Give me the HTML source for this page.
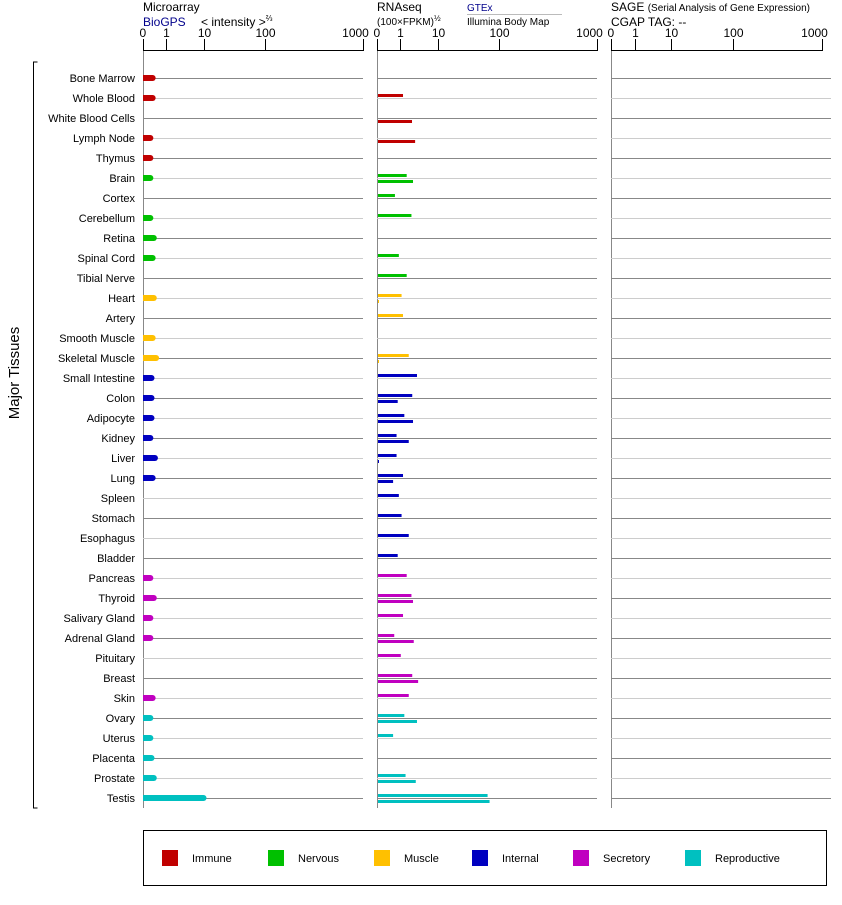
<!DOCTYPE html>
<html><head><meta charset="utf-8"><style>
body{margin:0;background:#fff;font-family:"Liberation Sans",Arial,sans-serif;}
svg text{font-family:"Liberation Sans",Arial,sans-serif;}
</style></head><body>
<svg id="chart" width="842" height="900" xmlns="http://www.w3.org/2000/svg">
<g id="hdr">
<text x="143" y="11" font-size="12">Microarray</text>
<text x="143" y="26" font-size="12" fill="#00008b">BioGPS</text>
<text x="201" y="26" font-size="12">&lt; intensity &gt;<tspan font-size="8" dy="-5">⅔</tspan></text>
<text x="377" y="11" font-size="12">RNAseq</text>
<text x="377" y="25" font-size="10">(100×FPKM)<tspan font-size="8" dy="-4">½</tspan></text>
<text x="467" y="11" font-size="10" fill="#00008b">GTEx</text>
<line x1="467" y1="14.5" x2="562" y2="14.5" stroke="#bbb"/>
<text x="467" y="25" font-size="10">Illumina Body Map</text>
<text x="611" y="11" font-size="12">SAGE <tspan font-size="10">(Serial Analysis of Gene Expression)</tspan></text>
<text x="611" y="26" font-size="12">CGAP TAG:  --</text>
</g>
<g id="axes"></g>
<g id="rows"></g>
<g id="bars"></g>
<path d="M37.5,62 H33.5 V808 H37.5" fill="none" stroke="#000"/>
<text transform="translate(19,373) rotate(-90)" text-anchor="middle" font-size="15">Major Tissues</text>
<g id="legend">
<rect x="143.5" y="830.5" width="683" height="55" fill="none" stroke="#000"/>
</g>
</svg>
<script>
const tissues=["Bone Marrow","Whole Blood","White Blood Cells","Lymph Node","Thymus","Brain","Cortex","Cerebellum","Retina","Spinal Cord","Tibial Nerve","Heart","Artery","Smooth Muscle","Skeletal Muscle","Small Intestine","Colon","Adipocyte","Kidney","Liver","Lung","Spleen","Stomach","Esophagus","Bladder","Pancreas","Thyroid","Salivary Gland","Adrenal Gland","Pituitary","Breast","Skin","Ovary","Uterus","Placenta","Prostate","Testis"];
const groups=[0,0,0,0,0,1,1,1,1,1,1,2,2,2,2,3,3,3,3,3,3,3,3,3,3,4,4,4,4,4,4,4,5,5,5,5,5];
const groupNames=["Immune","Nervous","Muscle","Internal","Secretory","Reproductive"];
const groupColors=["#c00000","#00c000","#ffc000","#0000c0","#c000c0","#00c0c0"];
const tickLabels=[0,1,10,100,1000];
const microarray=[0.55,0.55,0,0.45,0.45,0.45,0,0.45,0.6,0.55,0,0.6,0,0.55,0.7,0.5,0.5,0.5,0.45,0.65,0.55,0,0,0,0,0.45,0.6,0.45,0.45,0,0,0.55,0.45,0.45,0.5,0.6,11];
const gtex=[0,1.2,0,0,0,1.5,0.78,2.0,0,0.95,1.5,1.1,1.2,0,1.7,2.8,2.1,1.3,0.85,0.85,1.2,0.95,1.1,1.7,0.9,1.5,2.0,1.2,0.75,1.05,2.1,1.7,1.3,0.7,0,1.4,65];
const illumina=[0,0,2.07,2.5,0,2.2,0,0,0,0,0,0.05,0,0,0.05,0,0.9,2.2,1.7,0.05,0.7,0,0,0,0,0,2.2,0,2.3,0,3.0,0,2.8,0,0,2.6,70];
const sage=tissues.map(()=>0);
const NS="http://www.w3.org/2000/svg";
function mk(parent,tag,attrs){const e=document.createElementNS(NS,tag);for(const k in attrs)e.setAttribute(k,attrs[k]);parent.appendChild(e);return e;}
const panels=[{x0:143,px:[0,23,61,122,220],end:363},{x0:377,px:[0,23,61,122,220],end:597},{x0:611,px:[0,24,60,122,211],end:831}];
function scale(p,v){const t=tickLabels;if(v<=0)return p.x0;for(let i=1;i<t.length;i++){if(v<=t[i]){let f;if(i===1)f=v/t[1];else f=Math.log10(v/t[i-1])/Math.log10(t[i]/t[i-1]);return p.x0+p.px[i-1]+f*(p.px[i]-p.px[i-1]);}}return p.x0+p.px[4];}
function yRow(i){return 78+i*20;}
const axes=document.getElementById('axes'),rows=document.getElementById('rows'),bars=document.getElementById('bars');
panels.forEach((p,pi)=>{
 const a=mk(axes,'line',{x1:p.x0+0.5,y1:50,x2:p.x0+0.5,y2:808,stroke:'#888'});
 
 
 const h=mk(axes,'line',{x1:p.x0,y1:50.5,x2:scale(p,1000)+1,y2:50.5,stroke:'#000'});
 
 
 tickLabels.forEach(t=>{const x=Math.round(scale(p,t))+0.5;
  const tk=mk(axes,'line',{x1:x,y1:39,x2:x,y2:50,stroke:'#000'});
  
  
  const tx=mk(axes,'text',{x:t===1000?x-8:x,y:37,'font-size':12,'text-anchor':t===0?'start':'middle'});tx.textContent=t;
  if(t===0)tx.setAttribute('x',x-4);
  
  });
 tissues.forEach((n,i)=>{const y=yRow(i)+0.5;
  const l=mk(rows,'line',{x1:p.x0,y1:y,x2:p.end,y2:y,stroke:i%2===0?'#888':'#ccc'});
  
  });
});
tissues.forEach((n,i)=>{const y=yRow(i);const c=groupColors[groups[i]];
 const t=mk(rows,'text',{x:135,y:y+4,'font-size':11,'text-anchor':'end'});t.textContent=n;
 
 
 if(microarray[i]>0){const x1=scale(panels[0],microarray[i]);
  const b=mk(bars,'path',{d:`M143,${y-3}H${x1-3}a3,3 0 0 1 0,6H143Z`,fill:c});
  
  }
 if(gtex[i]>0){const b=mk(bars,'rect',{x:378,y:y-4,width:Math.max(1,scale(panels[1],gtex[i])-378),height:3,fill:c});
  
  }
 if(illumina[i]>0){const b=mk(bars,'rect',{x:378,y:y+2,width:Math.max(1,scale(panels[1],illumina[i])-378),height:3,fill:c});
  
  }
});
const lg=document.getElementById('legend');const lx=[162,268,374,472,573,685];
groupNames.forEach((g,i)=>{
 const r=mk(lg,'rect',{x:lx[i],y:850,width:16,height:16,fill:groupColors[i]});
 
 
 const t=mk(lg,'text',{x:lx[i]+30,y:862,'font-size':11});t.textContent=g;
 
 });
</script>
</body></html>
